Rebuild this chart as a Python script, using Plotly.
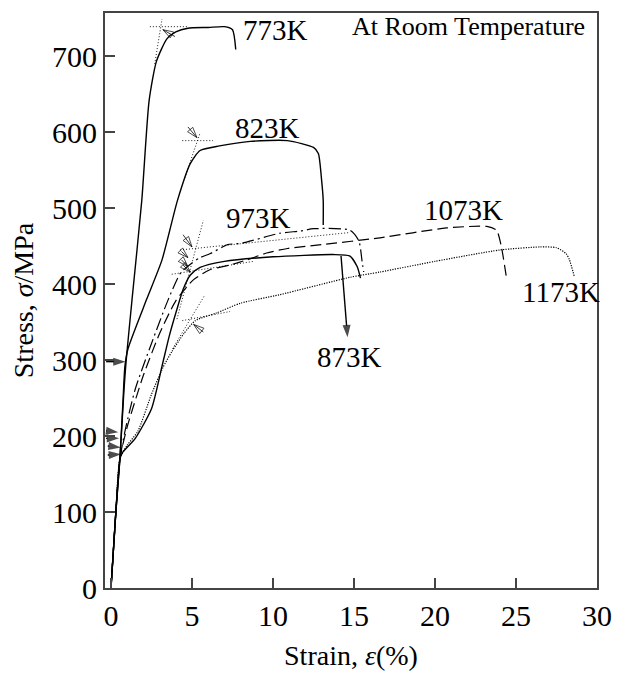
import plotly.graph_objects as go

# ---- data (strain %, stress MPa) ----
s773_x = [0, 0.3, 0.55, 0.8, 0.93, 1.3, 1.9, 2.35, 2.8, 3.45, 4.0, 4.75, 6.0, 7.0, 7.5, 7.7]
s773_y = [0, 100, 170, 260, 298, 380, 510, 641, 693, 723, 732, 737, 738, 739, 735, 709]

s823_x = [0, 0.3, 0.55, 0.75, 0.86, 1.05, 2.2, 3.15, 4.1, 4.9, 5.5, 6.7, 8.6, 10.9, 12.5, 12.8, 13.0, 13.1, 13.1]
s823_y = [0, 100, 170, 250, 292, 315, 380, 432, 510, 559, 576, 582, 588, 589, 580, 572, 537, 510, 478]

s873_x = [0, 0.3, 0.55, 0.7, 1.5, 2.5, 3.15, 3.6, 4.07, 4.45, 4.9, 5.5, 7.0, 10.0, 13.7, 14.75, 15.2, 15.4]
s873_y = [0, 100, 170, 178, 197, 236, 292, 332, 367, 393, 412, 422, 430, 436, 439, 437, 423, 408]

s973_x = [0, 0.3, 0.55, 0.9, 1.5, 2.5, 3.5, 4.3, 5.0, 5.5, 6.1, 7.2, 8.1, 10.4, 11.7, 12.5, 14.75, 15.3, 15.5, 15.6]
s973_y = [0, 100, 170, 210, 262, 322, 378, 415, 428, 435, 440, 452, 454, 467, 470, 473, 471, 457, 430, 416]

s1073_x = [0, 0.3, 0.55, 1.0, 2.0, 3.0, 4.0, 5.1, 6.1, 7.3, 8.4, 9.6, 10.9, 13.0, 16.6, 20.7, 23.2, 23.8, 24.1, 24.4]
s1073_y = [0, 100, 170, 212, 280, 335, 378, 406, 419, 425, 432, 441, 447, 452, 461, 474, 476, 471, 449, 410]

s1173_x = [0, 0.3, 0.55, 1.0, 1.65, 2.5, 3.2, 3.75, 4.5, 5.2, 6.5, 8.0, 10.4, 14.75, 16.6, 20.0, 24.0, 26.5, 27.5, 28.1, 28.3, 28.6]
s1173_y = [0, 100, 170, 188, 206, 255, 290, 311, 335, 352, 362, 375, 386, 409, 416, 430, 445, 449, 448, 440, 432, 410]

curve_labels = ["773K", "823K", "973K", "1073K", "1173K", "873K"]
label_x = [8.0, 7.5, 7.0, 19.2, 25.25, 12.6]
label_y = [735, 606, 487, 497, 390, 304]

# dotted construction (tangent) lines
tangent_x = [[2.4, 4.75], [2.7, 3.15], [4.4, 6.3], [4.55, 5.5], [4.07, 5.7],
             [4.26, 14.75], [3.75, 8.8], [3.8, 5.8], [4.4, 7.35]]
tangent_y = [[739, 739], [690, 749], [589, 589], [540, 599], [354, 484],
             [445, 468], [413, 430], [315, 386], [352, 364]]

# hollow arrows (tail -> head)
open_arrow_x = [[3.95, 3.2], [4.75, 5.3], [4.45, 5.0], [4.35, 4.75], [4.35, 4.75], [4.45, 4.9], [5.7, 5.1]]
open_arrow_y = [[726, 735], [607, 593], [465, 449], [443, 435], [432, 423], [425, 416], [337, 347]]

# filled yield arrows (tail -> head)
fill_arrow_x = [[-0.3, 0.45], [-0.3, 0.5], [-0.2, 0.6], [-0.2, 0.62], [-0.3, 0.9], [14.2, 14.6]]
fill_arrow_y = [[207, 205], [197, 197], [187, 185], [175, 176], [298, 298], [437, 330]]

FONT = "Liberation Serif"
INK = "#000000"
AXC = "#444444"

fig = go.Figure()

styles = [
    (s773_x, s773_y, "solid", 1.4),
    (s823_x, s823_y, "solid", 1.4),
    (s873_x, s873_y, "solid", 1.4),
    (s973_x, s973_y, "12px,4px,2px,4px", 1.2),
    (s1073_x, s1073_y, "11px,5px", 1.2),
    (s1173_x, s1173_y, "1.2px,1.3px", 1.2),
]
for xs, ys, dash, w in styles:
    fig.add_trace(go.Scatter(x=xs, y=ys, mode="lines", line=dict(color=INK, width=w, dash=dash,
                             shape="spline", smoothing=0.6), hoverinfo="skip"))

for xs, ys in zip(tangent_x, tangent_y):
    fig.add_trace(go.Scatter(x=xs, y=ys, mode="lines",
                             line=dict(color=INK, width=0.9, dash="1px,2px"), hoverinfo="skip"))

for xs, ys in zip(open_arrow_x, open_arrow_y):
    fig.add_trace(go.Scatter(x=xs, y=ys, mode="lines+markers",
                             line=dict(color=INK, width=0.8),
                             marker=dict(symbol="arrow-open", size=[0, 11], angleref="previous",
                                         color=INK, line=dict(color=INK, width=1)),
                             hoverinfo="skip"))

for xs, ys in zip(fill_arrow_x, fill_arrow_y):
    fig.add_trace(go.Scatter(x=xs, y=ys, mode="lines+markers",
                             line=dict(color=INK, width=1.4),
                             marker=dict(symbol="arrow", size=[0, 13], angleref="previous",
                                         color=INK, line=dict(width=0)),
                             hoverinfo="skip"))

for t, lx, ly in zip(curve_labels, label_x, label_y):
    fig.add_annotation(x=lx, y=ly, text=t, showarrow=False, xanchor="left", yanchor="middle",
                       font=dict(family=FONT, size=29, color=INK))

fig.add_annotation(x=29.4, y=739, text="At Room Temperature", showarrow=False,
                   xanchor="right", yanchor="middle", font=dict(family=FONT, size=26, color=INK))

axis_common = dict(showgrid=False, zeroline=False, showline=True, linecolor=AXC, linewidth=2,
                   mirror=True, ticks="inside", ticklen=10, tickwidth=2, tickcolor=AXC,
                   tickfont=dict(family=FONT, size=30, color=INK))

fig.update_xaxes(range=[-0.37, 30], tickvals=[0, 5, 10, 15, 20, 25, 30],
                 title=dict(text="Strain, <i>ε</i>(%)", font=dict(family=FONT, size=28, color=INK), standoff=14),
                 **axis_common)
fig.update_yaxes(range=[0, 757], tickvals=[0, 100, 200, 300, 400, 500, 600, 700],
                 title=dict(text="Stress, <i>σ</i>/MPa", font=dict(family=FONT, size=28, color=INK), standoff=10),
                 **axis_common)

fig.update_layout(width=627, height=677, margin=dict(l=105, r=30, t=11, b=86),
                  plot_bgcolor="white", paper_bgcolor="white", showlegend=False)

fig.write_html("out.html")
